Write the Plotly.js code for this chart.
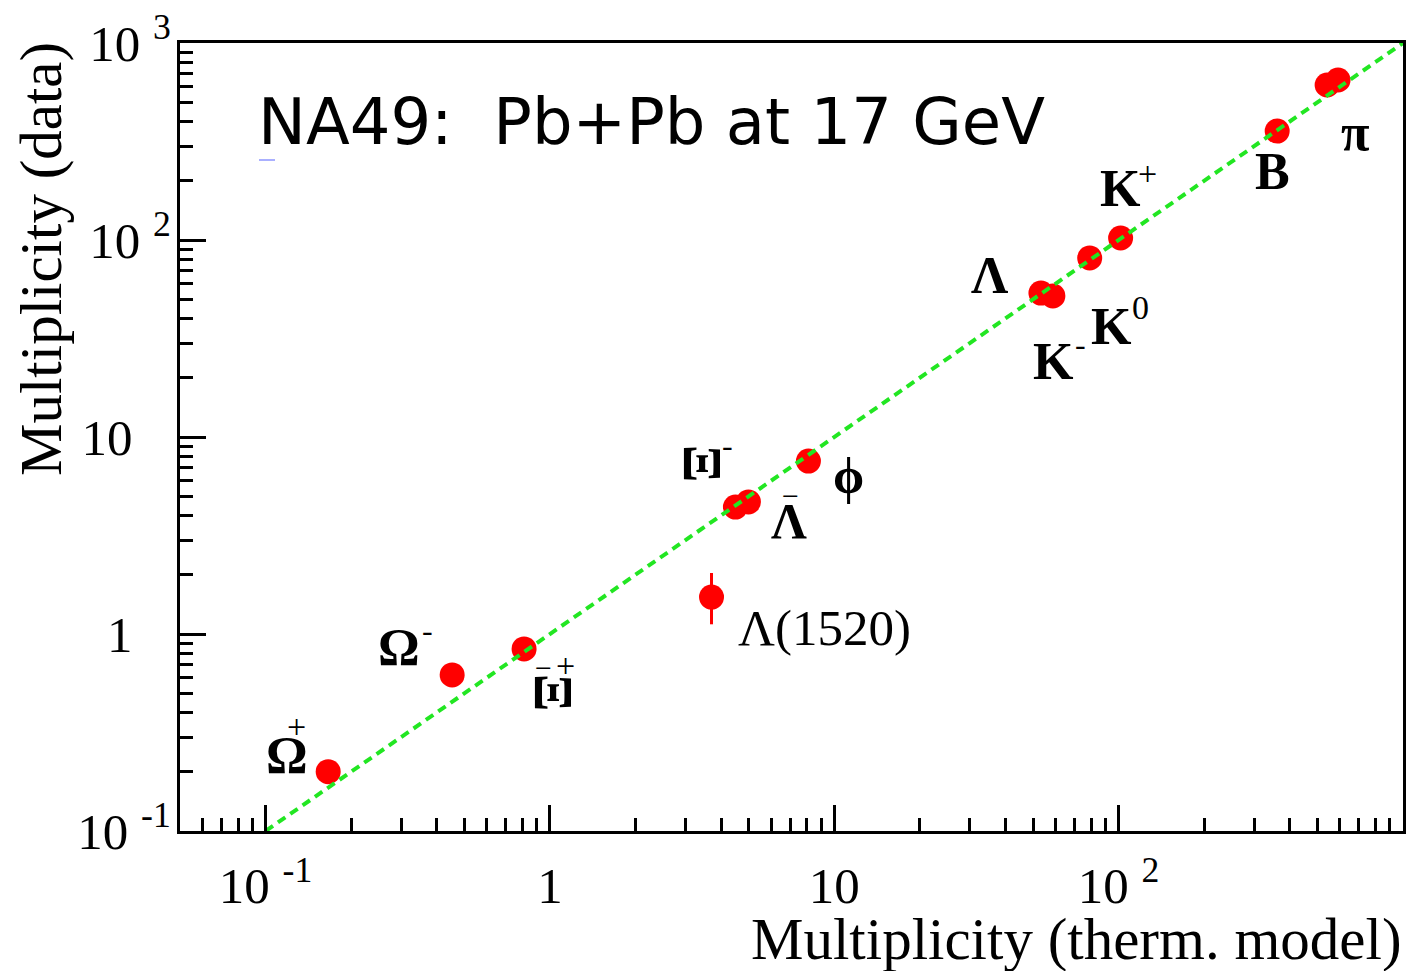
<!DOCTYPE html>
<html><head><meta charset="utf-8">
<script src="https://cdn.plot.ly/plotly-3.0.1.min.js"></script>
<style>html,body{margin:0;padding:0;background:#fff}#plot{width:1409px;height:971px}</style>
</head><body><div id="plot"></div>
<script>
// ---- data ----
const particles   = ['Ω+', 'Ω-', 'Ξ+', 'Ξ-', 'Λbar', 'φ', 'K-', 'Λ', 'K0', 'K+', 'B', 'π-', 'π+'];
const thermModel  = [0.166, 0.453, 0.811, 4.49, 4.99, 8.11, 53.3, 58.7, 79.1, 101.6, 361, 541, 591];
const dataMult    = [0.20, 0.62, 0.84, 4.41, 4.68, 7.55, 53.8, 52.0, 81.1, 102.4, 357, 612, 649];
const l1520Model  = [3.70];
const l1520Data   = [1.54];
const l1520ErrUp  = [0.50];
const l1520ErrLow = [0.42];
const diagX = [0.1, 1000];
const diagY = [0.1, 1000];
const xTickVals = [0.1, 1, 10, 100];
const xTickText = ['10\u00a0<sup>-1</sup>', '1', '10', '10\u00a0<sup>2</sup>'];
const yTickVals = [0.1, 1, 10, 100, 1000];
const yTickText = ['10\u00a0<sup>-1</sup>', '1\u00a0\u00a0\u00a0', '10\u00a0\u00a0\u00a0', '10\u00a0<sup>2</sup>', '10\u00a0<sup>3</sup>'];
const titleText = 'NA49:\u00a0 Pb+Pb at 17 GeV';
const xTitle = 'Multiplicity (therm. model)';
const yTitle = 'Multiplicity (data)';

// ---- layout helpers ----
const W = 1409, H = 971;
const L = 180, R = 1403, T = 43, B = 831;
const px = x => (x - L) / (R - L);
const py = y => (B - y) / (B - T);
const SERIF = 'Liberation Serif, Times New Roman, serif';

function minorTicks(decades, from) {
  const out = [];
  decades.forEach(d => { for (let m = 2; m <= 9; m++) { const v = m * Math.pow(10, d); if (v > from) out.push(v); } });
  return out;
}

// particle labels: [text, xpx, ypx, size, bold, angle]
const labels = [
  ['Ω', 287, 755, 52, true, 0], ['+', 296, 726, 34, false, 0],
  ['Ω', 399, 647, 52, true, 0], ['-', 427, 630, 32, false, 0],
  ['Ξ', 554, 692, 55, true, 90], ['\u2212', 543, 667, 30, false, 0], ['+', 565, 665, 34, false, 0],
  ['Ξ', 702, 463, 55, true, 90], ['-', 727, 445, 32, false, 0],
  ['Λ', 789, 521, 50, true, 0], ['\u2212', 790, 495, 30, false, 0],
  ['ϕ', 848, 476, 50, true, 0],
  ['Λ(1520)', 825, 628, 51, false, 0],
  ['Λ', 989, 275, 52, true, 0],
  ['K', 1053, 361, 52, true, 0], ['-', 1080, 344, 32, false, 0],
  ['K', 1111, 326, 52, true, 0], ['0', 1140, 307, 34, false, 0],
  ['K', 1120, 188, 52, true, 0], ['+', 1147, 173, 34, false, 0],
  ['B', 1272, 172, 52, true, 0],
  ['π', 1355, 133, 52, true, 0]
];

const annotations = labels.map(([t, x, y, s, b, a]) => ({
  text: t, xref: 'paper', yref: 'paper', x: px(x), y: py(y),
  xanchor: 'center', yanchor: 'middle', showarrow: false, textangle: a,
  font: {family: SERIF, size: s, color: 'black', weight: b ? 'bold' : 'normal'}
}));
annotations.push({
  text: yTitle, xref: 'paper', yref: 'paper', x: px(41), y: py(259), textangle: -90,
  xanchor: 'center', yanchor: 'middle', showarrow: false,
  font: {family: SERIF, size: 59, color: 'black'}
});
annotations.push({
  text: xTitle, xref: 'paper', yref: 'paper', x: px(1076), y: py(939),
  xanchor: 'center', yanchor: 'middle', showarrow: false,
  font: {family: SERIF, size: 59, color: 'black'}
});

const traces = [
  {
    x: thermModel, y: dataMult, text: particles, type: 'scatter', mode: 'markers',
    marker: {color: '#ff0000', size: 25}, hoverinfo: 'text+x+y'
  },
  {
    x: l1520Model, y: l1520Data, type: 'scatter', mode: 'markers', text: ['Λ(1520)'],
    marker: {color: '#ff0000', size: 25},
    error_y: {type: 'data', symmetric: false, array: l1520ErrUp, arrayminus: l1520ErrLow,
              color: '#ff0000', thickness: 3, width: 0}
  },
  {
    x: diagX, y: diagY, type: 'scatter', mode: 'lines',
    line: {color: '#22e622', width: 4, dash: '9px,6px'}, hoverinfo: 'skip'
  }
];

const axisCommon = {
  type: 'log', showline: true, linewidth: 3, linecolor: 'black', mirror: true,
  ticks: 'inside', ticklen: 26, tickwidth: 3, tickcolor: 'black', tickmode: 'array',
  showgrid: false, zeroline: false,
  tickfont: {family: SERIF, size: 51, color: 'black'}
};

const layout = {
  width: W, height: H, showlegend: false,
  paper_bgcolor: 'white', plot_bgcolor: 'white',
  margin: {l: L, r: W - R, t: T, b: H - B},
  title: {
    text: titleText, xref: 'container', yref: 'container',
    x: 258 / W, xanchor: 'left', y: 1 - 122 / H, yanchor: 'middle',
    font: {family: 'DejaVu Sans', size: 64, color: 'black'}
  },
  xaxis: Object.assign({}, axisCommon, {
    range: [Math.log10(0.05), 3], tickvals: xTickVals, ticktext: xTickText,
    ticklabelstandoff: 8,
    minor: {tickvals: minorTicks([-2, -1, 0, 1, 2], 0.05), ticks: 'inside', ticklen: 13, tickwidth: 3, tickcolor: 'black', showgrid: false}
  }),
  yaxis: Object.assign({}, axisCommon, {
    range: [-1, 3], tickvals: yTickVals, ticktext: yTickText,
    ticklabelstandoff: -4,
    minor: {tickvals: minorTicks([-1, 0, 1, 2], 0.1), ticks: 'inside', ticklen: 13, tickwidth: 3, tickcolor: 'black', showgrid: false}
  }),
  shapes: [
    {type: 'line', xref: 'paper', yref: 'paper', x0: px(259), x1: px(275), y0: py(160), y1: py(160),
     line: {color: '#aab0ff', width: 2}}
  ],
  annotations: annotations
};

Plotly.newPlot('plot', traces, layout, {displayModeBar: false, staticPlot: true});
</script>
</body></html>
